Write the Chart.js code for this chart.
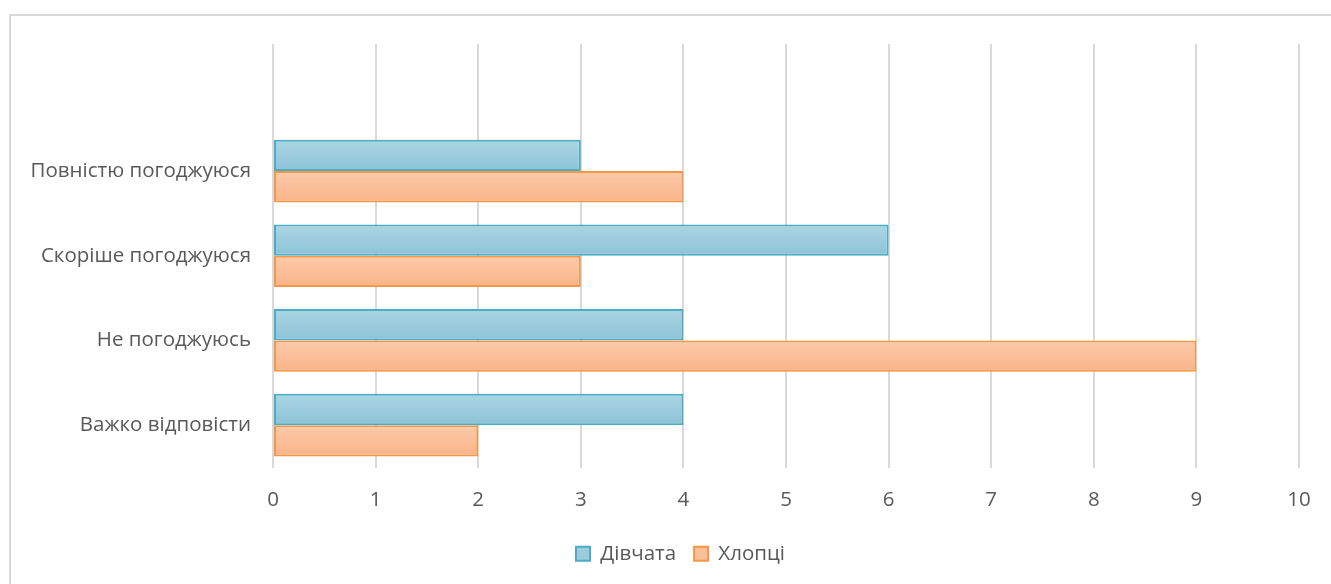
<!DOCTYPE html>
<html>
<head>
<meta charset="utf-8">
<script src="https://cdn.jsdelivr.net/npm/chart.js@4"></script>
<style>
  html, body { margin: 0; padding: 0; background: #fff; overflow: hidden; }
  #frame { position: absolute; left: 9px; top: 14px; width: 1400px; height: 700px; border: 2px solid #d9d9d9; }
  #wrap { position: absolute; left: 0; top: 0; width: 1331px; height: 584px; }
</style>
</head>
<body>
<div id="frame"></div>
<div id="wrap"><canvas id="chart"></canvas></div>
<script>
// categories, top to bottom (first one is the empty slot Excel leaves on top)
const categories = ['', 'Повністю погоджуюся', 'Скоріше погоджуюся', 'Не погоджуюсь', 'Важко відповісти'];
const girls = [null, 3, 6, 4, 4];
const boys = [null, 4, 3, 9, 2];
const xTicks = [0, 1, 2, 3, 4, 5, 6, 7, 8, 9, 10];

const catPct = 0.74;

// vertical gradient per bar, like the Excel fill
function barFill(topColor, bottomColor, flat, below) {
  return (ctx) => {
    const chart = ctx.chart;
    const y = chart.scales && chart.scales.y;
    if (!chart.chartArea || !y || ctx.dataIndex === undefined) return flat;
    const center = y.getPixelForValue(ctx.dataIndex);
    const band = Math.abs(y.getPixelForValue(1) - y.getPixelForValue(0));
    const h = band * catPct / 2;
    const y0 = below ? center : center - h;
    const g = chart.ctx.createLinearGradient(0, y0, 0, y0 + h);
    g.addColorStop(0, topColor);
    g.addColorStop(1, bottomColor);
    return g;
  };
}

// Excel centres the legend a bit right of the canvas middle
const legendShift = {
  id: 'legendShift',
  afterLayout(chart) {
    if (chart.legend) {
      chart.legend.left += 31;
      chart.legend.right += 31;
    }
  }
};

const textColor = '#595959';
const font = { family: "'Open Sans', sans-serif", size: 20.5 };

new Chart(document.getElementById('chart'), {
  type: 'bar',
  data: {
    labels: categories,
    datasets: [
      {
        label: 'Дівчата',
        data: girls,
        backgroundColor: barFill('#abd5e3', '#8cc3d7', '#9bcbdd', false),
        borderColor: '#4bacc6',
        borderWidth: 2,
        borderSkipped: false
      },
      {
        label: 'Хлопці',
        data: boys,
        backgroundColor: barFill('#fccaa9', '#fab489', '#fbbf99', true),
        borderColor: '#f79646',
        borderWidth: 2,
        borderSkipped: false
      }
    ]
  },
  plugins: [legendShift],
  options: {
    indexAxis: 'y',
    responsive: true,
    maintainAspectRatio: false,
    animation: false,
    categoryPercentage: catPct,
    barPercentage: 1,
    layout: { padding: { top: 44, right: 32, left: 0, bottom: 10 } },
    plugins: {
      tooltip: { enabled: false },
      legend: {
        position: 'bottom',
        labels: {
          color: textColor,
          font: font,
          boxWidth: 14,
          boxHeight: 14,
          padding: 18,
          generateLabels: (chart) => [
            { text: 'Дівчата', fillStyle: '#9bcbdd', strokeStyle: '#4bacc6', lineWidth: 2, fontColor: textColor, datasetIndex: 0 },
            { text: 'Хлопці', fillStyle: '#fbbf99', strokeStyle: '#f79646', lineWidth: 2, fontColor: textColor, datasetIndex: 1 }
          ]
        }
      }
    },
    scales: {
      x: {
        min: 0,
        max: 10,
        afterBuildTicks: (axis) => { axis.ticks = xTicks.map(v => ({ value: v })); },
        grid: { color: '#d9d9d9', lineWidth: 2, drawTicks: false },
        border: { display: false },
        ticks: { color: textColor, font: font, padding: 20 },
        afterFit: (axis) => { axis.height = 58; }
      },
      y: {
        grid: { display: false, drawTicks: false },
        border: { display: false },
        ticks: { color: textColor, font: font, padding: 22 },
        afterFit: (axis) => { axis.width = 273; }
      }
    }
  }
});
</script>
</body>
</html>
